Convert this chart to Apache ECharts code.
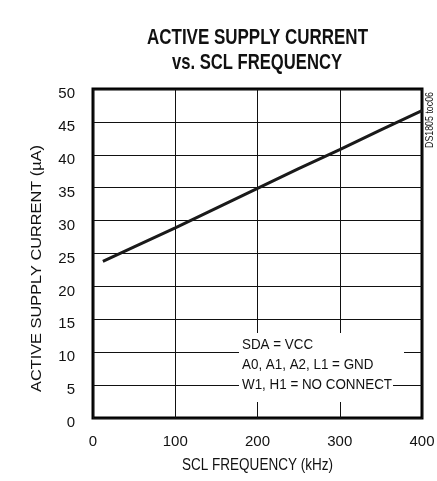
<!DOCTYPE html>
<html><head><meta charset="utf-8">
<script src="https://cdn.jsdelivr.net/npm/echarts@6/dist/echarts.min.js"></script>
<style>html,body{margin:0;padding:0;background:#fff}#c{width:437px;height:481px}</style>
</head><body><div id="c"></div>
<script>
const freqKHz = [12, 50, 100, 150, 200, 250, 300, 350, 400];
const currentUA = [23.8, 26.0, 28.9, 31.9, 34.9, 37.9, 40.8, 43.8, 46.7];
const titleLines = ['ACTIVE SUPPLY CURRENT', 'vs. SCL FREQUENCY'];
const xName = 'SCL FREQUENCY (kHz)';
const yName = 'ACTIVE SUPPLY CURRENT (µA)';
const noteLines = ['SDA = VCC', 'A0, A1, A2, L1 = GND', 'W1, H1 = NO CONNECT'];
const sideNote = 'DS1805 toc06';

const F = "'Liberation Sans',Arial,sans-serif";
const ctx = document.createElement('canvas').getContext('2d');
function sx(text, font, target) { ctx.font = font; return target / ctx.measureText(text).width; }
function label(text, size, bold, cx, cy, width, rot, z) {
  const font = (bold ? 'bold ' : '') + size + 'px ' + F;
  return {type: 'text', x: cx, y: cy, rotation: rot || 0, scaleX: sx(text, font, width), z: z || 20,
    style: {text: text, font: font, fill: '#111', textAlign: 'center', textVerticalAlign: 'middle'}};
}
const noteFont = '15px ' + F;
const noteScale = sx(noteLines[2], noteFont, 150);
function note(text, cy) {
  return {type: 'text', x: 242, y: cy, scaleX: noteScale, z: 21,
    style: {text: text, font: noteFont, fill: '#111', textAlign: 'left', textVerticalAlign: 'middle'}};
}

const chart = echarts.init(document.getElementById('c'), null, {renderer: 'canvas'});
chart.setOption({
  animation: false,
  backgroundColor: '#fff',
  grid: {left: 93, right: 15, top: 89, bottom: 63, outerBoundsMode: 'none', containLabel: false,
    show: true, borderColor: '#000', borderWidth: 3, backgroundColor: '#fff'},
  xAxis: {
    type: 'value', min: 0, max: 400, interval: 100,
    axisLine: {show: false}, axisTick: {show: false},
    axisLabel: {fontFamily: F, fontSize: 15, color: '#111', margin: 16},
    splitLine: {show: true, lineStyle: {color: '#111', width: 1}}
  },
  yAxis: {
    type: 'value', min: 0, max: 50, interval: 5,
    axisLine: {show: false}, axisTick: {show: false},
    axisLabel: {color: '#111', margin: 18, formatter: '{v|{value}}',
      rich: {v: {fontFamily: F, fontSize: 15, color: '#111', padding: [10, 0, 0, 0]}}},
    splitLine: {show: true, lineStyle: {color: '#111', width: 1}}
  },
  series: [{
    type: 'line', showSymbol: false, symbol: 'none',
    data: freqKHz.map((f, i) => [f, currentUA[i]]),
    lineStyle: {color: '#1a1a1a', width: 3}, z: 5
  }],
  graphic: [
    label(titleLines[0], 22, true, 257.5, 38, 221),
    label(titleLines[1], 22, true, 257, 63, 170),
    label(xName, 16, false, 257.5, 466, 151),
    label(yName, 15, false, 37, 268.5, 247, Math.PI / 2),
    label(sideNote, 10, false, 430, 120, 56, Math.PI / 2),
    {type: 'rect', shape: {x: 239, y: 333, width: 165, height: 44}, style: {fill: '#fff'}, z: 10},
    {type: 'rect', shape: {x: 239, y: 376, width: 154, height: 26}, style: {fill: '#fff'}, z: 10},
    note(noteLines[0], 345),
    note(noteLines[1], 365),
    note(noteLines[2], 385)
  ]
});
</script></body></html>
